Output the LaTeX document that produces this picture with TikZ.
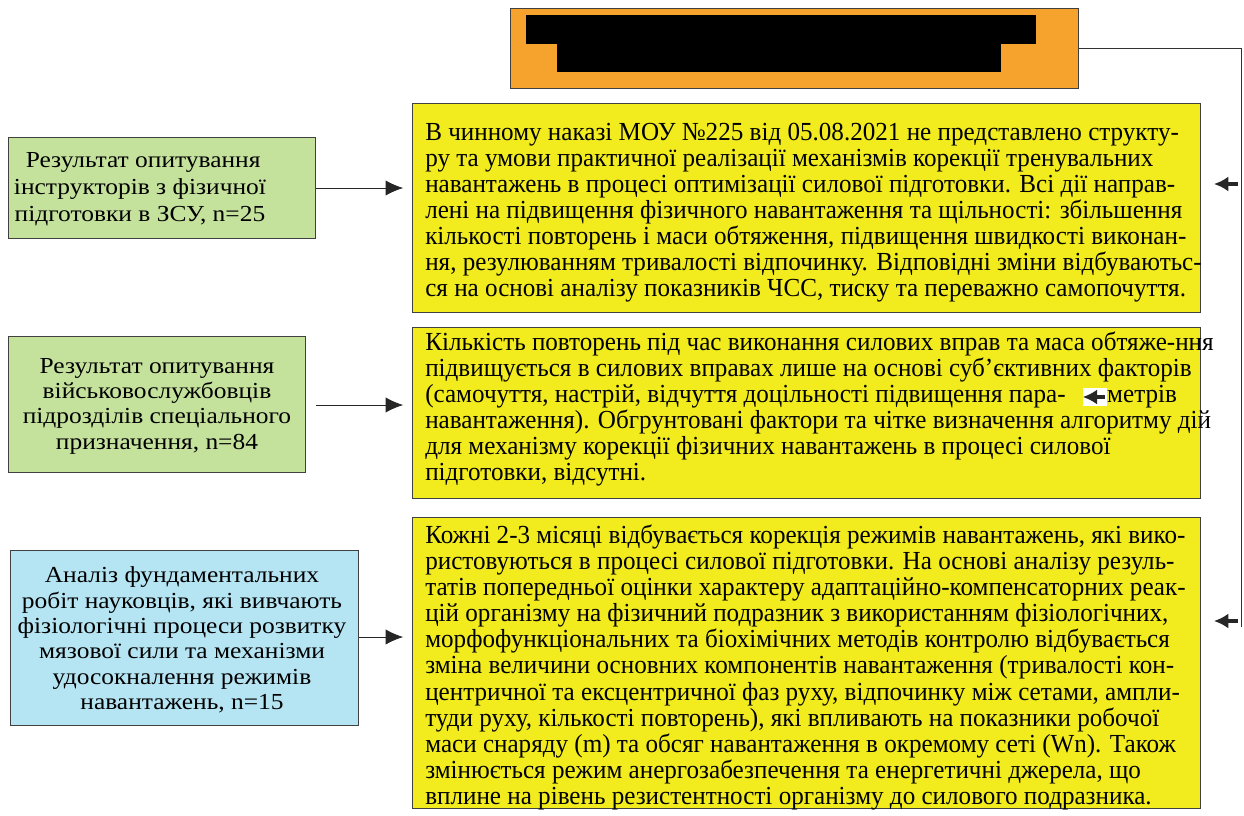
\documentclass[tikz,border=0pt]{standalone}
\usepackage{fontspec}
\setmainfont{Liberation Serif}
\newfontfamily\narrowserif[FakeStretch=0.965]{Liberation Serif}
\newfontfamily\wideserif[FakeStretch=1.11]{Liberation Serif}
\usetikzlibrary{calc,positioning,arrows.meta}
\definecolor{headorange}{RGB}{245,163,45}
\definecolor{surveygreen}{RGB}{197,226,157}
\definecolor{studyblue}{RGB}{181,228,243}
\definecolor{findyellow}{RGB}{242,236,30}
\newcommand{\flowtipstyle}{-{Latex[length=4.4mm,width=3.8mm]}}

\begin{document}
\begin{tikzpicture}[
    x=0.025cm, y=-0.025cm,
    link/.style={\flowtipstyle, line width=0.6pt, draw=black!85},
    backlink/.style={-{Latex[length=3.6mm,width=3.8mm]}, line width=2.6pt, draw=black!85},
    loopline/.style={line width=0.7pt, draw=black!80},
    framebox/.style={draw=black!75, line width=0.9pt, inner sep=0pt, anchor=north west},
    srcbox/.style={framebox, fill=surveygreen},
    litbox/.style={framebox, fill=studyblue},
    findbox/.style={framebox, fill=findyellow},
    srctext/.style={align=center, inner sep=0pt, font=\wideserif\fontsize{16.3}{18}\selectfont},
    findtext/.style={align=left, inner sep=0pt, anchor=north west, font=\narrowserif\fontsize{18.5}{18.5}\selectfont}
]
  \useasboundingbox (0,0) rectangle (1244,816);

  % heading with hidden title
  \node[framebox, fill=headorange, minimum width=14.2cm, minimum height=2cm] (head) at (510,8) {};
  \fill[black] (526,15) rectangle (1036,44);
  \fill[black] (557,43) rectangle (1001,72);

  % findings
  \node[findbox, minimum width=19.7cm, minimum height=5.225cm] (find-1) at (412,103) {};
  \node[findbox, minimum width=19.7cm, minimum height=4.275cm] (find-2) at (412,327) {};
  \node[findbox, minimum width=19.7cm, minimum height=7.275cm] (find-3) at (412,517) {};

  \node[findtext] (findtxt-1) at (425,123) {%
    В чинному наказі МОУ №225 від 05.08.2021 не представлено структу-\\
    ру та умови практичної реалізації механізмів корекції тренувальних\\
    навантажень в процесі оптимізації силової підготовки. Всі дії направ-\\
    лені на підвищення фізичного навантаження та щільності: збільшення\\
    кількості повторень і маси обтяження, підвищення швидкості виконан-\\
    ня, резулюванням тривалості відпочинку. Відповідні зміни відбуваютьс-\\
    ся на основі аналізу показників ЧСС, тиску та переважно самопочуття.};
  \node[findtext] (findtxt-2) at (425,332) {%
    Кількість повторень під час виконання силових вправ та маса обтяже-ння\\
    підвищується в силових вправах лише на основі суб’єктивних факторів\\
    (самочуття, настрій, відчуття доцільності підвищення пара-\hspace{1.6em}метрів\\
    навантаження). Обгрунтовані фактори та чітке визначення алгоритму дій\\
    для механізму корекції фізичних навантажень в процесі силової\\
    підготовки, відсутні.};
  \node[findtext] (findtxt-3) at (425,525) {%
    Кожні 2-3 місяці відбувається корекція режимів навантажень, які вико-\\
    ристовуються в процесі силової підготовки. На основі аналізу резуль-\\
    татів попередньої оцінки характеру адаптаційно-компенсаторних реак-\\
    цій організму на фізичний подразник з використанням фізіологічних,\\
    морфофункціональних та біохімічних методів контролю відбувається\\
    зміна величини основних компонентів навантаження (тривалості кон-\\
    центричної та ексцентричної фаз руху, відпочинку між сетами, ампли-\\
    туди руху, кількості повторень), які впливають на показники робочої\\
    маси снаряду (m) та обсяг навантаження в окремому сеті (Wn). Також\\
    змінюється режим анергозабезпечення та енергетичні джерела, що\\
    вплине на рівень резистентності організму до силового подразника.};

  % sources
  \node[srcbox, minimum width=7.675cm, minimum height=2.525cm] (src-1) at (8,137) {};
  \node[srcbox, minimum width=7.425cm, minimum height=3.4cm] (src-2) at (8,336) {};
  \node[litbox, minimum width=8.7cm, minimum height=4.375cm] (src-3) at (10,550) {};

  \node[srctext, font=\wideserif\fontsize{16.3}{19}\selectfont] (srctxt-1) at (140,189) {%
    \ Результат опитування\\інструкторів з фізичної\\підготовки в ЗСУ, n=25};
  \node[srctext] (srctxt-2) at (157,406) {%
    Результат опитування\\військовослужбовців\\підрозділів спеціального\\призначення, n=84};
  \node[srctext] (srctxt-3) at (182,640) {%
    Аналіз фундаментальних\\робіт науковців, які вивчають\\фізіологічні процеси розвитку\\
    мязової сили та механізми\\удосокналення режимів\\навантажень, n=15};

  \draw[link, shorten >=0.22cm] (src-1.east |- 0,188) -- (find-1.west |- 0,188);
  \draw[link, shorten <=0.25cm, shorten >=0.22cm] (src-2.east |- 0,405) -- (find-2.west |- 0,405);
  \draw[link, shorten >=0.22cm] (src-3.east |- 0,637) -- (find-3.west |- 0,637);

  % feedback line
  \coordinate (loop-end) at (1241,627);
  \draw[loopline] (head.east) -| (loop-end);
  \coordinate (back-1) at (1238,184);
  \coordinate (back-3) at (1238,621);
  \draw[backlink] (back-1) -- ++(-24,0);
  \draw[backlink] (back-3) -- ++(-24,0);

  % stray arrow inside the second box
  \node[fill=white, minimum width=0.6cm, minimum height=0.45cm, inner sep=0pt] (back-2) at (1095,397) {};
  \draw[backlink, shorten <=1.5pt] (back-2.east) -- (back-2.west);
\end{tikzpicture}
\end{document}
